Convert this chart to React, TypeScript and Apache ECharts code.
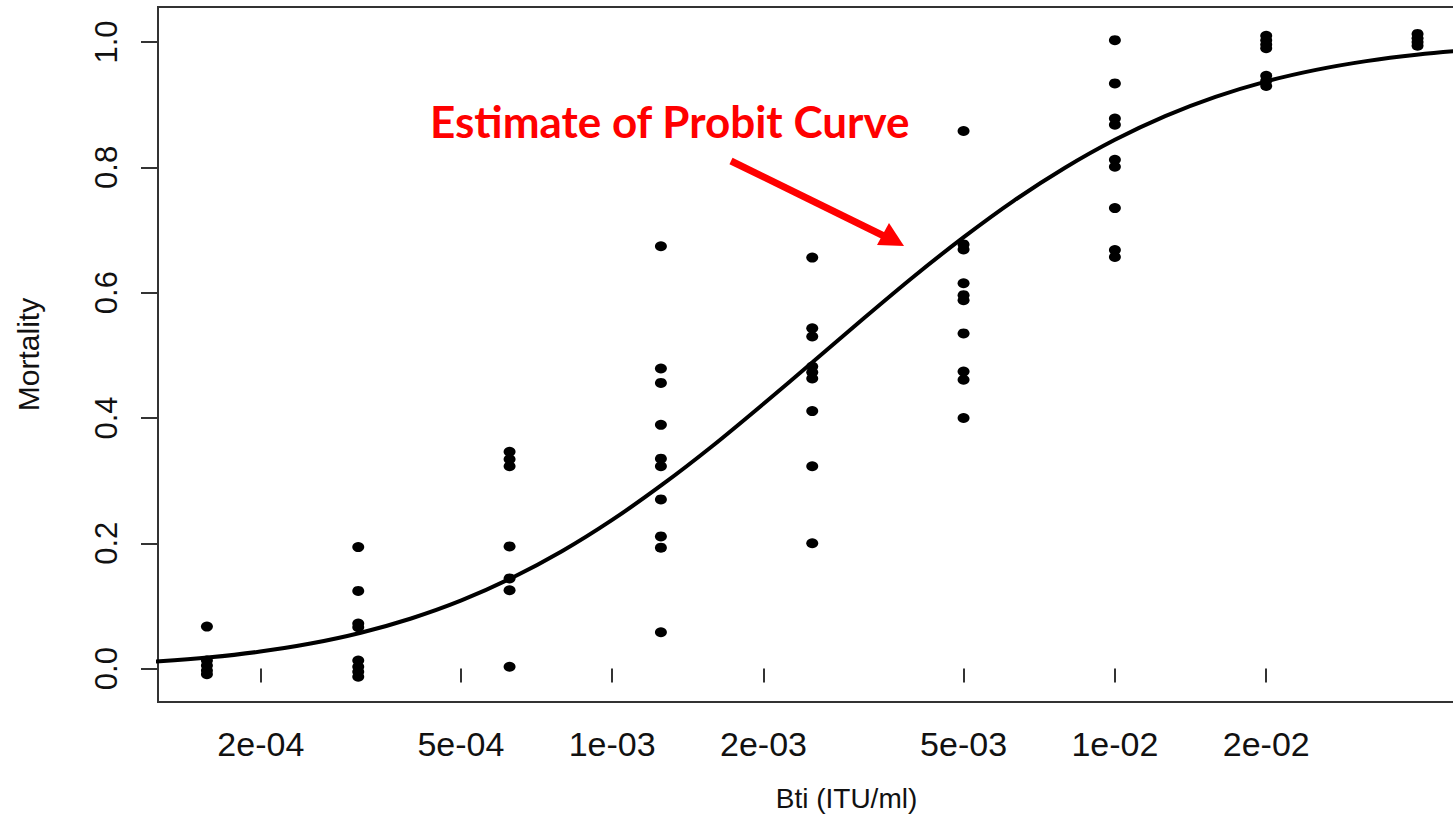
import React, { useEffect, useRef } from "react";
import * as echarts from "echarts";

// Doses (ITU/ml) tested
const doses = [1.5625e-4, 3.125e-4, 6.25e-4, 1.25e-3, 2.5e-3, 5e-3, 1e-2, 2e-2, 4e-2];

// Observed mortality at each dose (replicates, slightly jittered)
const mortDose1 = [0.067, 0.013, 0.005, -0.003, -0.009];
const mortDose2 = [0.194, 0.124, 0.072, 0.066, 0.013, 0.003, -0.005, -0.013];
const mortDose3 = [0.346, 0.334, 0.323, 0.195, 0.144, 0.125, 0.003];
const mortDose4 = [0.674, 0.479, 0.456, 0.389, 0.335, 0.323, 0.27, 0.211, 0.193, 0.058];
const mortDose5 = [0.656, 0.543, 0.53, 0.482, 0.473, 0.463, 0.411, 0.323, 0.2];
const mortDose6 = [0.858, 0.677, 0.669, 0.615, 0.596, 0.588, 0.535, 0.474, 0.461, 0.4];
const mortDose7 = [1.003, 0.934, 0.878, 0.868, 0.812, 0.801, 0.735, 0.668, 0.657];
const mortDose8 = [1.01, 1.003, 0.996, 0.99, 0.946, 0.938, 0.93];
const mortDose9 = [1.013, 1.006, 1.0, 0.994];
const mortality = [mortDose1, mortDose2, mortDose3, mortDose4, mortDose5, mortDose6, mortDose7, mortDose8, mortDose9];

// Estimated probit curve
const curveDose = [
  1e-4, 1.259e-4, 1.585e-4, 1.995e-4, 2.512e-4, 3.162e-4, 3.981e-4, 5.012e-4, 6.31e-4, 7.943e-4,
  1e-3, 1.259e-3, 1.585e-3, 1.995e-3, 2.512e-3, 3.162e-3, 3.981e-3, 5.012e-3, 6.31e-3, 7.943e-3,
  1e-2, 1.259e-2, 1.585e-2, 1.995e-2, 2.512e-2, 3.162e-2, 3.981e-2, 5.012e-2, 6.31e-2, 7.943e-2,
];
const curveMortality = [
  0.0073, 0.0117, 0.018, 0.0272, 0.04, 0.0573, 0.08, 0.1088, 0.1446, 0.1873,
  0.2373, 0.2939, 0.3557, 0.4219, 0.49, 0.5588, 0.6259, 0.689, 0.7473, 0.799,
  0.844, 0.8818, 0.9125, 0.9369, 0.9555, 0.9695, 0.9797, 0.9868, 0.9916, 0.9948,
];

// Axis ticks
const xTickDoses = [2e-4, 5e-4, 1e-3, 2e-3, 5e-3, 1e-2, 2e-2];
const xTickLabels = ["2e-04", "5e-04", "1e-03", "2e-03", "5e-03", "1e-02", "2e-02"];
const yTickValues = [0, 0.2, 0.4, 0.6, 0.8, 1.0];
const yTickLabels = ["0.0", "0.2", "0.4", "0.6", "0.8", "1.0"];

const xMinLog = -3.9035;
const xMaxLog = -1.1643;
const yMin = -0.0533;
const yMax = 1.0559;

const FONT = "'Liberation Sans', Arial, sans-serif";

export default function App() {
  const ref = useRef<HTMLDivElement>(null);

  useEffect(() => {
    if (!ref.current) return;
    const chart = echarts.init(ref.current, undefined, { renderer: "svg" });

    const xTickLogs = xTickDoses.map((d) => Math.log10(d));
    const points: number[][] = [];
    doses.forEach((d, i) => {
      mortality[i].forEach((m) => points.push([Math.log10(d), m]));
    });
    const curve = curveDose.map((d, i) => [Math.log10(d), curveMortality[i]]);

    chart.setOption({
      animation: false,
      backgroundColor: "#ffffff",
      grid: {
        left: 158,
        top: 7,
        width: 1377,
        height: 695,
        show: true,
        borderColor: "#333333",
        borderWidth: 2,
        containLabel: false,
        outerBoundsMode: "none",
      },
      xAxis: {
        type: "value",
        min: xMinLog,
        max: xMaxLog,
        name: "Bti (ITU/ml)",
        nameLocation: "middle",
        nameGap: 82,
        nameTextStyle: { fontFamily: FONT, fontSize: 28, color: "#111" },
        axisLine: { show: false },
        splitLine: { show: false },
        axisTick: {
          show: true,
          length: 14,
          customValues: xTickLogs,
          lineStyle: { color: "#333", width: 2 },
        },
        axisLabel: {
          show: true,
          customValues: xTickLogs,
          margin: 25,
          fontFamily: FONT,
          fontSize: 34,
          color: "#111",
          formatter: (v: number) => {
            const i = xTickLogs.findIndex((t) => Math.abs(t - v) < 1e-6);
            return i >= 0 ? xTickLabels[i] : "";
          },
        },
      },
      yAxis: {
        type: "value",
        min: yMin,
        max: yMax,
        name: "Mortality",
        nameLocation: "middle",
        nameRotate: 90,
        nameGap: 115,
        nameTextStyle: { fontFamily: FONT, fontSize: 30, color: "#111" },
        axisLine: { show: false },
        splitLine: { show: false },
        axisTick: {
          show: true,
          length: 17,
          customValues: yTickValues,
          lineStyle: { color: "#333", width: 2 },
        },
        axisLabel: {
          show: true,
          customValues: yTickValues,
          rotate: 90,
          margin: 36,
          fontFamily: FONT,
          fontSize: 31,
          color: "#111",
          formatter: (v: number) => {
            const i = yTickValues.findIndex((t) => Math.abs(t - v) < 1e-6);
            return i >= 0 ? yTickLabels[i] : "";
          },
        },
      },
      series: [
        {
          type: "scatter",
          data: points,
          symbol: "circle",
          symbolSize: [12, 10],
          itemStyle: { color: "#000", opacity: 1 },
          z: 2,
        },
        {
          type: "line",
          data: curve,
          showSymbol: false,
          smooth: 0.3,
          lineStyle: { color: "#000", width: 4 },
          clip: true,
          z: 3,
        },
      ],
      graphic: [
        {
          type: "text",
          x: 430,
          y: 121,
          style: {
            text: "Estimate of Probit Curve",
            fontFamily: "Lato, 'Open Sans', sans-serif",
            fontWeight: "bold",
            fontSize: 44,
            fill: "#ff0000",
            textAlign: "left",
            textVerticalAlign: "middle",
          },
        },
        {
          type: "line",
          shape: { x1: 731, y1: 161, x2: 886, y2: 237 },
          style: { stroke: "#ff0000", lineWidth: 7 },
        },
        {
          type: "polygon",
          shape: { points: [[904, 246], [877, 245], [889, 223]] },
          style: { fill: "#ff0000" },
        },
      ],
    });

    return () => chart.dispose();
  }, []);

  return (
    <div
      style={{
        position: "fixed",
        left: 0,
        top: 0,
        width: 1453,
        height: 822,
        overflow: "hidden",
        background: "#fff",
      }}
    >
      <div ref={ref} style={{ width: 1560, height: 822 }} />
    </div>
  );
}
